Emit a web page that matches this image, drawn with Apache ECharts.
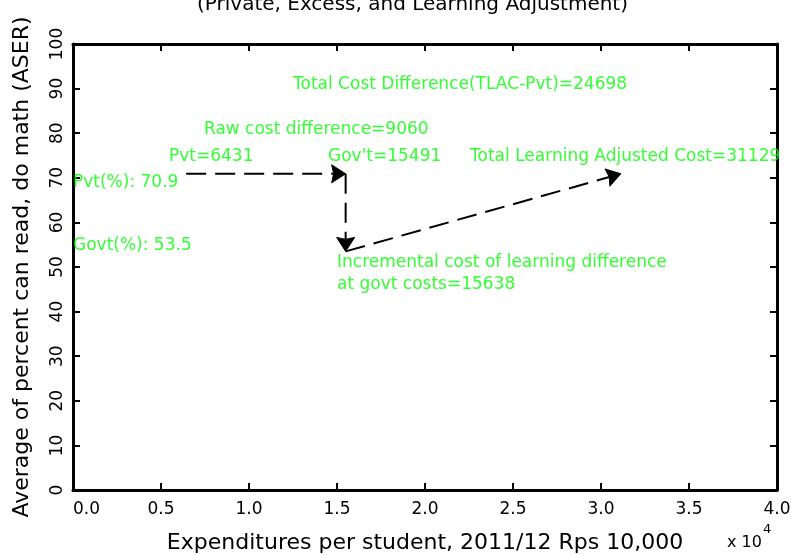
<!DOCTYPE html>
<html>
<head>
<meta charset="utf-8">
<script src="https://cdn.jsdelivr.net/npm/echarts@6/dist/echarts.min.js"></script>
<style>
  html, body { margin: 0; padding: 0; background: #fff; }
  #chart { width: 791px; height: 555px; }
</style>
</head>
<body>
<div id="chart"></div>
<script>
// Per-student expenditure (Rps) for private, government and learning-adjusted cost
const costNames = ['Pvt', "Gov't", 'Total Learning Adjusted Cost'];
const costs = [6431, 15491, 31129];
// Share of students who can read / do math (ASER), private vs government
const shareNames = ['Pvt(%)', 'Govt(%)'];
const shares = [70.9, 53.5];
// Axis ticks
const xTickStep = 5000;
const yTickStep = 10;

const FONT = 'DejaVu Sans';
const GREEN = '#00ff00';

// Arrow path: private -> govt cost, drop to govt learning, then up to learning-adjusted cost
const arrows = [
  [costs[0], shares[0], costs[1], shares[0]],
  [costs[1], shares[0], costs[1], shares[1]],
  [costs[1], shares[1], costs[2], shares[0]]
];

const rawDiff = costs[1] - costs[0];
const incrDiff = costs[2] - costs[1];
const totalDiff = costs[2] - costs[0];

// Annotation anchors (left edge, vertical middle) in axis units
const notes = [
  { at: [12500, 90.8], text: 'Total Cost Difference(TLAC-Pvt)=' + totalDiff },
  { at: [7440, 80.7], text: 'Raw cost difference=' + rawDiff },
  { at: [5455, 74.7], text: costNames[0] + '=' + costs[0] },
  { at: [14490, 74.7], text: costNames[1] + '=' + costs[1] },
  { at: [22560, 74.7], text: costNames[2] + '=' + costs[2] },
  { at: [0, 69.0], text: shareNames[0] + ': ' + shares[0].toFixed(1) },
  { at: [0, 54.8], text: shareNames[1] + ': ' + shares[1].toFixed(1) },
  { at: [15000, 50.9], text: 'Incremental cost of learning difference' },
  { at: [15000, 46.1], text: 'at govt costs=' + incrDiff }
];

const chart = echarts.init(document.getElementById('chart'), null, { renderer: 'canvas' });

const axisLine = { show: true, onZero: false, lineStyle: { color: '#000', width: 3 } };
const axisTick = { show: true, inside: true, length: 7, lineStyle: { color: '#000', width: 2 } };

// Dashed shaft with a filled, slightly notched head whose tip sits on the end point
function arrowItem(params, api) {
  const p0 = api.coord([api.value(0), api.value(1)]);
  const p1 = api.coord([api.value(2), api.value(3)]);
  const dx = p1[0] - p0[0], dy = p1[1] - p0[1];
  const len = Math.hypot(dx, dy);
  const ux = dx / len, uy = dy / len;
  const nx = -uy, ny = ux;
  const L = 14, W = 9, N = 12;
  const bx = p1[0] - ux * L, by = p1[1] - uy * L;
  const notch = [p1[0] - ux * N, p1[1] - uy * N];
  return {
    type: 'group',
    children: [
      {
        type: 'line',
        shape: { x1: p0[0], y1: p0[1], x2: notch[0], y2: notch[1] },
        style: { stroke: '#000', lineWidth: 2, lineDash: [20, 9] }
      },
      {
        type: 'polygon',
        shape: { points: [p1, [bx + nx * W, by + ny * W], notch, [bx - nx * W, by - ny * W]] },
        style: { fill: '#000', stroke: '#000', lineWidth: 1 }
      }
    ]
  };
}

chart.setOption({
  animation: false,
  backgroundColor: '#fff',
  textStyle: { fontFamily: FONT },
  grid: { left: 73, right: 14, top: 44, bottom: 65, containLabel: false, outerBoundsMode: 'none' },
  xAxis: [
    {
      type: 'value', min: 0, max: 40000, interval: xTickStep, position: 'bottom',
      axisLine, axisTick,
      splitLine: { show: false },
      axisLabel: {
        color: '#000', fontSize: 17, fontFamily: FONT, margin: 11,
        alignMinLabel: 'left',
        formatter: v => (v / 1e4).toFixed(1)
      },
      name: 'Expenditures per student, 2011/12 Rps 10,000',
      nameLocation: 'middle', nameGap: 42,
      nameTextStyle: { color: '#000', fontSize: 22, fontFamily: FONT }
    },
    {
      type: 'value', min: 0, max: 40000, interval: xTickStep, position: 'top',
      axisLine, axisTick, splitLine: { show: false }, axisLabel: { show: false }
    }
  ],
  yAxis: [
    {
      type: 'value', min: 0, max: 100, interval: yTickStep, position: 'left',
      axisLine, axisTick,
      splitLine: { show: false },
      axisLabel: { color: '#000', fontSize: 17, fontFamily: FONT, margin: 7, rotate: 90 },
      name: 'Average of percent can read, do math (ASER)',
      nameLocation: 'middle', nameGap: 40,
      nameTextStyle: { color: '#000', fontSize: 22, fontFamily: FONT }
    },
    {
      type: 'value', min: 0, max: 100, interval: yTickStep, position: 'right',
      axisLine, axisTick, splitLine: { show: false }, axisLabel: { show: false }
    }
  ],
  series: [
    {
      type: 'custom',
      silent: true,
      renderItem: arrowItem,
      encode: { x: [0, 2], y: [1, 3] },
      data: arrows,
      z: 3
    },
    {
      type: 'scatter',
      silent: true,
      symbolSize: 0,
      z: 4,
      data: notes.map(n => ({
        value: n.at,
        label: {
          show: true, position: 'right', distance: 0,
          formatter: n.text, color: GREEN, fontSize: 17, fontFamily: FONT
        }
      }))
    }
  ],
  graphic: [
    {
      type: 'text', left: 197, top: -5,
      style: {
        text: '(Private, Excess, and Learning Adjustment)',
        font: '20px "DejaVu Sans"', fill: '#000'
      },
      z: 10
    },
    {
      type: 'text', x: 727, y: 543,
      style: { text: 'x 10', font: '16px "DejaVu Sans"', fill: '#000', textVerticalAlign: 'middle' }
    },
    {
      type: 'text', x: 763, y: 530,
      style: { text: '4', font: '13px "DejaVu Sans"', fill: '#000', textVerticalAlign: 'middle' }
    }
  ]
});
</script>
</body>
</html>
